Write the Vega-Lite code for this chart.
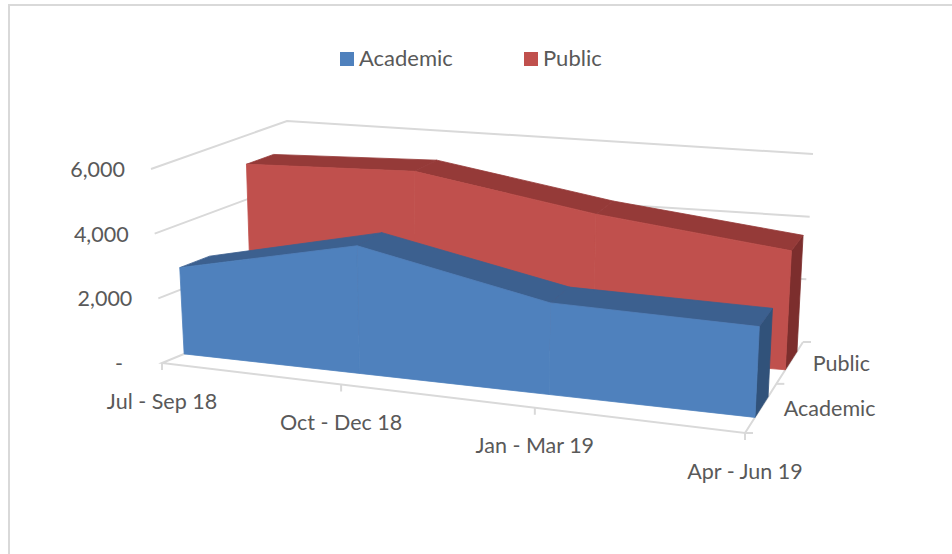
{
  "$schema": "https://vega.github.io/schema/vega-lite/v6.json",
  "width": 946,
  "height": 552,
  "padding": {"left": 9, "top": 5, "right": 0, "bottom": 0},
  "autosize": "none",
  "background": "white",
  "view": {"stroke": "#D9D9D9", "strokeWidth": 2},
  "data": {"values": [
    {"kind": "flow", "series": "Academic", "quarter": 0, "value": 2680},
    {"kind": "flow", "series": "Academic", "quarter": 1, "value": 3880},
    {"kind": "flow", "series": "Academic", "quarter": 2, "value": 2720},
    {"kind": "flow", "series": "Academic", "quarter": 3, "value": 2630},
    {"kind": "flow", "series": "Public", "quarter": 0, "value": 5100},
    {"kind": "flow", "series": "Public", "quarter": 1, "value": 5260},
    {"kind": "flow", "series": "Public", "quarter": 2, "value": 4340},
    {"kind": "flow", "series": "Public", "quarter": 3, "value": 3660},
    {"kind": "wall", "value": 2000},
    {"kind": "wall", "value": 4000},
    {"kind": "wall", "value": 6000},
    {"kind": "floor", "value": 0},
    {"kind": "xtick", "quarter": 0, "label": "Jul - Sep 18"},
    {"kind": "xtick", "quarter": 1, "label": "Oct - Dec 18"},
    {"kind": "xtick", "quarter": 2, "label": "Jan - Mar 19"},
    {"kind": "xtick", "quarter": 3, "label": "Apr - Jun 19"},
    {"kind": "dtick", "depth": 0},
    {"kind": "dtick", "depth": 0.5},
    {"kind": "dtick", "depth": 1},
    {"kind": "dlabel", "depth": 0.25, "label": "Academic"},
    {"kind": "dlabel", "depth": 0.75, "label": "Public"},
    {"kind": "ylabel", "value": 2000, "label": "2,000"},
    {"kind": "ylabel", "value": 4000, "label": "4,000"},
    {"kind": "ylabel", "value": 6000, "label": "6,000"},
    {"kind": "ylabel", "value": 0, "label": "-"}
  ]},
  "transform": [
    {"window": [{"op": "lead", "field": "value", "as": "nextValue"}], "groupby": ["kind", "series"], "sort": [{"field": "quarter", "order": "ascending"}]},
    {"calculate": "datum.kind == 'flow' ? (datum.quarter < 3 ? ['front', 'roof'] : ['side']) : ['line']", "as": "faces"},
    {"flatten": ["faces"], "as": ["face"]},
    {"calculate": "datum.kind == 'flow' || datum.kind == 'floor' ? [0, 1, 2, 3] : datum.kind == 'wall' ? [0, 1, 2] : [0]", "as": "corners"},
    {"flatten": ["corners"], "as": ["corner"]},
    {"calculate": "datum.series == 'Academic' ? 0.15 : 0.66", "as": "d0"},
    {"calculate": "datum.series == 'Academic' ? 0.36 : 0.88", "as": "d1"},
    {"calculate": "datum.kind == 'flow' ? (datum.face == 'side' ? 3 : datum.corner < 2 ? datum.quarter : datum.quarter + 1) : datum.kind == 'wall' ? (datum.corner == 2 ? 3 : 0) : datum.kind == 'floor' ? (datum.corner < 2 ? 0 : 3) : datum.kind == 'xtick' ? datum.quarter : datum.kind == 'ylabel' ? 0 : 3", "as": "mq"},
    {"calculate": "datum.kind == 'flow' ? (datum.face == 'front' ? datum.d0 : datum.face == 'roof' ? (datum.corner == 1 || datum.corner == 2 ? datum.d1 : datum.d0) : (datum.corner >= 2 ? datum.d1 : datum.d0)) : datum.kind == 'wall' ? (datum.corner == 0 ? 0 : 1) : datum.kind == 'floor' ? (datum.corner == 0 || datum.corner == 3 ? 1 : 0) : datum.kind == 'dtick' || datum.kind == 'dlabel' ? datum.depth : 0", "as": "md"},
    {"calculate": "datum.kind != 'flow' ? (datum.value || 0) : datum.face == 'front' ? (datum.corner == 1 ? datum.value : datum.corner == 2 ? datum.nextValue : 0) : datum.face == 'roof' ? (datum.corner < 2 ? datum.value : datum.nextValue) : (datum.corner == 1 || datum.corner == 2 ? datum.value : 0)", "as": "mv"},
    {"calculate": "0.887 * (datum.mq / 3) / (1 - 0.113 * (datum.mq / 3))", "as": "f"},
    {"calculate": "1.174 * datum.md / (1 + 0.174 * datum.md)", "as": "g"},
    {"calculate": "datum.mv / 6000", "as": "t"},
    {"calculate": "(162 + 583 * datum.f) * (1 - datum.g) + (291 + 512 * datum.f) * datum.g", "as": "x0"},
    {"calculate": "(363 + 70 * datum.f) * (1 - datum.g) + (310 + 32 * datum.f) * datum.g", "as": "y0"},
    {"calculate": "(151 + 604 * datum.f) * (1 - datum.g) + (287 + 526 * datum.f) * datum.g", "as": "x6"},
    {"calculate": "(169 + 53 * datum.f) * (1 - datum.g) + (121 + 33 * datum.f) * datum.g", "as": "y6"},
    {"calculate": "datum.x0 + datum.t * (datum.x6 - datum.x0)", "as": "px"},
    {"calculate": "datum.y0 + datum.t * (datum.y6 - datum.y0)", "as": "py"},
    {"calculate": "datum.px + 8", "as": "px2"},
    {"calculate": "datum.py + 7", "as": "py2"},
    {"calculate": "datum.kind + '-' + datum.series + '-' + datum.face + '-' + datum.quarter + '-' + datum.value", "as": "poly"}
  ],
  "encoding": {
    "x": {"field": "px", "type": "quantitative", "axis": null, "scale": {"domain": [9, 955], "nice": false, "zero": false}},
    "y": {"field": "py", "type": "quantitative", "axis": null, "scale": {"domain": [5, 557], "reverse": true, "nice": false, "zero": false}}
  },
  "layer": [
    {
      "transform": [{"filter": "datum.kind == 'wall' || datum.kind == 'floor'"}],
      "mark": {"type": "line", "stroke": "#D9D9D9", "strokeWidth": 2},
      "encoding": {"detail": {"field": "poly"}, "order": {"field": "corner"}}
    },
    {
      "transform": [{"filter": "datum.kind == 'xtick'"}],
      "mark": {"type": "rule", "stroke": "#D9D9D9", "strokeWidth": 2},
      "encoding": {"y2": {"field": "py2"}}
    },
    {
      "transform": [{"filter": "datum.kind == 'dtick'"}],
      "mark": {"type": "rule", "stroke": "#D9D9D9", "strokeWidth": 2},
      "encoding": {"x2": {"field": "px2"}}
    },
    {
      "transform": [{"filter": "datum.kind == 'flow' && datum.series == 'Public' && datum.face == 'side'"}],
      "mark": {"type": "line", "interpolate": "linear-closed", "fill": "#7C2E2D", "stroke": "#7C2E2D", "strokeWidth": 0.8},
      "encoding": {"detail": {"field": "poly"}, "order": {"field": "corner"}}
    },
    {
      "transform": [{"filter": "datum.kind == 'flow' && datum.series == 'Public' && datum.face == 'roof'"}],
      "mark": {"type": "line", "interpolate": "linear-closed", "fill": "#953A38", "stroke": "#953A38", "strokeWidth": 0.8},
      "encoding": {"detail": {"field": "poly"}, "order": {"field": "corner"}}
    },
    {
      "transform": [{"filter": "datum.kind == 'flow' && datum.series == 'Public' && datum.face == 'front'"}],
      "mark": {"type": "line", "interpolate": "linear-closed", "fill": "#C0504D", "stroke": "#C0504D", "strokeWidth": 0.8},
      "encoding": {"detail": {"field": "poly"}, "order": {"field": "corner"}}
    },
    {
      "transform": [{"filter": "datum.kind == 'flow' && datum.series == 'Academic' && datum.face == 'side'"}],
      "mark": {"type": "line", "interpolate": "linear-closed", "fill": "#31527A", "stroke": "#31527A", "strokeWidth": 0.8},
      "encoding": {"detail": {"field": "poly"}, "order": {"field": "corner"}}
    },
    {
      "transform": [{"filter": "datum.kind == 'flow' && datum.series == 'Academic' && datum.face == 'roof'"}],
      "mark": {"type": "line", "interpolate": "linear-closed", "fill": "#3C608F", "stroke": "#3C608F", "strokeWidth": 0.8},
      "encoding": {"detail": {"field": "poly"}, "order": {"field": "corner"}}
    },
    {
      "transform": [{"filter": "datum.kind == 'flow' && datum.series == 'Academic' && datum.face == 'front'"}],
      "mark": {"type": "line", "interpolate": "linear-closed", "fill": "#4F81BD", "stroke": "#4F81BD", "strokeWidth": 0.8},
      "encoding": {"detail": {"field": "poly"}, "order": {"field": "corner"}}
    },
    {
      "transform": [{"filter": "datum.kind == 'flow' && datum.face == 'front' && datum.corner == 0"}],
      "mark": {"type": "point", "shape": "square", "filled": true, "opacity": 0, "size": 1},
      "encoding": {
        "fill": {
          "field": "series",
          "type": "nominal",
          "scale": {"domain": ["Academic", "Public"], "range": ["#4F81BD", "#C0504D"]},
          "legend": {
            "orient": "none",
            "legendX": 327,
            "legendY": 43,
            "direction": "horizontal",
            "title": null,
            "symbolType": "square",
            "symbolSize": 196,
            "symbolOpacity": 1,
            "symbolStrokeWidth": 0,
            "labelFont": "Lato",
            "labelFontSize": 22,
            "labelColor": "#595959",
            "columnPadding": 67,
            "labelOffset": 1
          }
        }
      }
    },
    {
      "transform": [{"filter": "datum.kind == 'xtick'"}],
      "mark": {"type": "text", "font": "Lato", "fontSize": 21.5, "fill": "#595959", "align": "center", "baseline": "middle", "dy": 39.5},
      "encoding": {"text": {"field": "label"}}
    },
    {
      "transform": [{"filter": "datum.kind == 'dlabel'"}],
      "mark": {"type": "text", "font": "Lato", "fontSize": 21.5, "fill": "#595959", "align": "left", "baseline": "middle", "dx": 22.5, "dy": 2.5},
      "encoding": {"text": {"field": "label"}}
    },
    {
      "transform": [{"filter": "datum.kind == 'ylabel' && datum.value > 0"}],
      "mark": {"type": "text", "font": "Lato", "fontSize": 21.5, "fill": "#595959", "align": "right", "baseline": "middle", "dx": -26, "dy": 2},
      "encoding": {"text": {"field": "label"}}
    },
    {
      "transform": [{"filter": "datum.kind == 'ylabel' && datum.value == 0"}],
      "mark": {"type": "text", "font": "Lato", "fontSize": 21.5, "fill": "#595959", "align": "right", "baseline": "middle", "dx": -39, "dy": 2},
      "encoding": {"text": {"field": "label"}}
    }
  ]
}
